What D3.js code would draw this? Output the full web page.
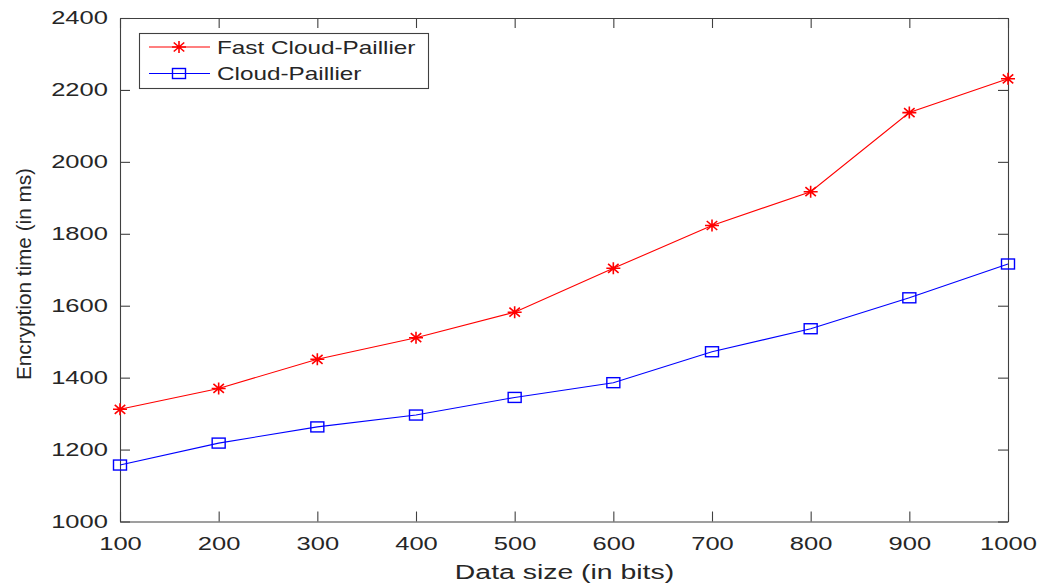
<!DOCTYPE html>
<html>
<head>
<meta charset="utf-8">
<script src="https://cdn.jsdelivr.net/npm/d3@7"></script>
<style>
  body { margin: 0; background: #fff; }
  svg { display: block; }
  text { font-family: "Liberation Sans", Arial, Helvetica, sans-serif; fill: #262626; }
</style>
</head>
<body>
<svg id="chart" width="1041" height="586"></svg>
<script>
const dataSizes = [100, 200, 300, 400, 500, 600, 700, 800, 900, 1000];
const fastCloudPaillier = [1312, 1370, 1451, 1511, 1582, 1704, 1823, 1917, 2137, 2231];
const cloudPaillier = [1157, 1218, 1263, 1296, 1345, 1386, 1472, 1536, 1622, 1716];
const seriesNames = ["Fast Cloud-Paillier", "Cloud-Paillier"];
const xTicks = [100, 200, 300, 400, 500, 600, 700, 800, 900, 1000];
const yTicks = [1000, 1200, 1400, 1600, 1800, 2000, 2200, 2400];
const xLabel = "Data size (in bits)";
const yLabel = "Encryption time (in ms)";

const svg = d3.select("#chart");
const L = 120, R = 1008, T = 18, B = 521.5;
const sx = 1.42; // horizontal stretch of text seen in the reference

const x = d3.scaleLinear().domain([100, 1000]).range([L, R]);
const y = d3.scaleLinear().domain([1000, 2400]).range([B, T]);

const axisColor = "#404040";
function styleAxis(g) {
  g.select(".domain").attr("stroke", axisColor).attr("stroke-width", 1.1);
  g.selectAll(".tick line").attr("stroke", axisColor).attr("stroke-width", 1.1);
}

// bottom axis
const gx = svg.append("g").attr("transform", `translate(0,${B})`)
  .call(d3.axisBottom(x).tickValues(xTicks).tickSize(-10).tickSizeOuter(0).tickPadding(15.5).tickFormat(d3.format("d")));
gx.selectAll("text").attr("font-size", 18).attr("transform", `scale(${sx},1)`).attr("fill", "#262626");
styleAxis(gx);

// left axis
const gy = svg.append("g").attr("transform", `translate(${L},0)`)
  .call(d3.axisLeft(y).tickValues(yTicks).tickSize(-10).tickSizeOuter(0).tickPadding(12).tickFormat(d3.format("d")));
gy.selectAll("text").attr("font-size", 18).attr("x", 0).attr("transform", `translate(-12,0) scale(${sx},1)`).attr("fill", "#262626");
styleAxis(gy);

// top axis (box)
const gt = svg.append("g").attr("transform", `translate(0,${T})`)
  .call(d3.axisTop(x).tickValues(xTicks).tickSize(-10).tickSizeOuter(0).tickFormat(""));
styleAxis(gt);

// right axis (box)
const gr = svg.append("g").attr("transform", `translate(${R},0)`)
  .call(d3.axisRight(y).tickValues(yTicks).tickSize(-10).tickSizeOuter(0).tickFormat(""));
styleAxis(gr);

// axis labels
svg.append("text").attr("x", 0).attr("y", 0)
  .attr("transform", `translate(${(L + R) / 2 + 0.5},579) scale(${sx},1)`)
  .attr("text-anchor", "middle").attr("font-size", 20).text(xLabel);

svg.append("text")
  .attr("transform", `translate(31,274) rotate(-90)`)
  .attr("text-anchor", "middle").attr("font-size", 20)
  .attr("textLength", 212).attr("lengthAdjust", "spacingAndGlyphs")
  .text(yLabel);

// series
const series = [
  { name: seriesNames[0], values: fastCloudPaillier, color: "#ff0000", marker: "star" },
  { name: seriesNames[1], values: cloudPaillier, color: "#0000ff", marker: "square" }
];

const line = d3.line().x((d, i) => x(dataSizes[i])).y(d => y(d));

function drawMarker(g, kind, color) {
  if (kind === "star") {
    const w = 7, h = 6;
    g.append("path")
      .attr("d", `M${-w},0L${w},0M0,${-h}L0,${h}M${-w * 0.75},${-h * 0.75}L${w * 0.75},${h * 0.75}M${-w * 0.75},${h * 0.75}L${w * 0.75},${-h * 0.75}`)
      .attr("stroke", color).attr("stroke-width", 1.6).attr("fill", "none");
  } else {
    g.append("rect").attr("x", -6.5).attr("y", -5).attr("width", 13).attr("height", 10)
      .attr("stroke", color).attr("stroke-width", 1.4).attr("fill", "none");
  }
}

series.forEach(s => {
  svg.append("path").datum(s.values).attr("d", line)
    .attr("fill", "none").attr("stroke", s.color).attr("stroke-width", 1.1);
  s.values.forEach((v, i) => {
    const g = svg.append("g").attr("transform", `translate(${x(dataSizes[i])},${y(v)})`);
    drawMarker(g, s.marker, s.color);
  });
});

// legend
const lg = svg.append("g");
lg.append("rect").attr("x", 139.5).attr("y", 33.5).attr("width", 289).attr("height", 55)
  .attr("fill", "#fff").attr("stroke", axisColor).attr("stroke-width", 1.1);
series.forEach((s, i) => {
  const cy = 47 + i * 26.5;
  lg.append("line").attr("x1", 149).attr("x2", 210).attr("y1", cy).attr("y2", cy)
    .attr("stroke", s.color).attr("stroke-width", 1.1);
  const g = lg.append("g").attr("transform", `translate(179,${cy})`);
  drawMarker(g, s.marker, s.color);
  lg.append("text").attr("x", 0).attr("y", 0)
    .attr("transform", `translate(217,${cy + 6.5}) scale(1.35,1)`)
    .attr("font-size", 18).text(s.name);
});
</script>
</body>
</html>
